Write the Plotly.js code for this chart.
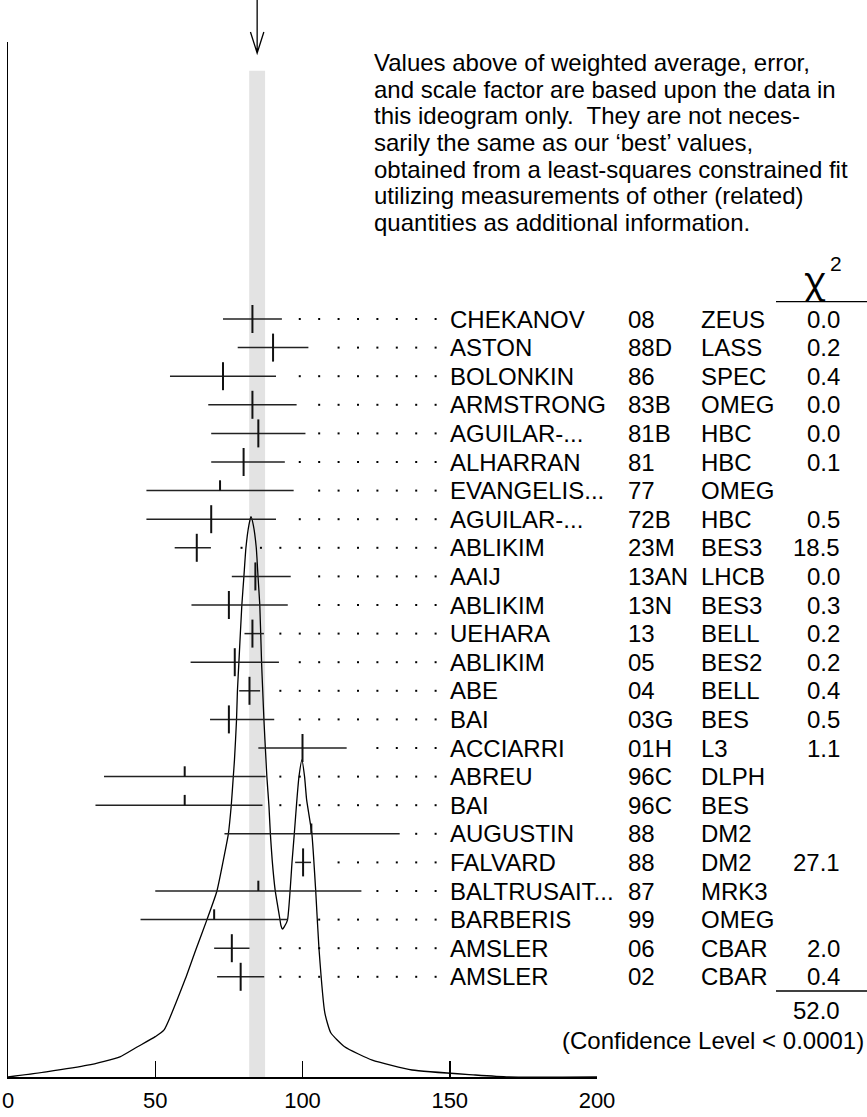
<!DOCTYPE html>
<html><head><meta charset="utf-8">
<script src="https://cdn.plot.ly/plotly-3.0.1.min.js"></script>
<style>html,body{margin:0;padding:0;background:#fff}#chart{width:867px;height:1117px}</style>
</head><body><div id="chart"></div>
<script>
// ---------- data ----------
const names = ['CHEKANOV','ASTON','BOLONKIN','ARMSTRONG','AGUILAR-...','ALHARRAN','EVANGELIS...','AGUILAR-...','ABLIKIM','AAIJ','ABLIKIM','UEHARA','ABLIKIM','ABE','BAI','ACCIARRI','ABREU','BAI','AUGUSTIN','FALVARD','BALTRUSAIT...','BARBERIS','AMSLER','AMSLER'];
const years = ['08','88D','86','83B','81B','81','77','72B','23M','13AN','13N','13','05','04','03G','01H','96C','96C','88','88','87','99','06','02'];
const experiments = ['ZEUS','LASS','SPEC','OMEG','HBC','HBC','OMEG','HBC','BES3','LHCB','BES3','BELL','BES2','BELL','BES','L3','DLPH','BES','DM2','DM2','MRK3','OMEG','CBAR','CBAR'];
const chi2 = ['0.0','0.2','0.4','0.0','0.0','0.1','','0.5','18.5','0.0','0.3','0.2','0.2','0.4','0.5','1.1','','','','27.1','','','2.0','0.4'];
const values   = [83, 90, 73, 83, 85, 80, 72, 69, 64.1, 84, 75, 83, 77, 82, 75, 100, 60, 60, 103, 100.2, 85, 70, 76, 79];
const errMinus = [10, 12, 18, 15, 16, 11, 25, 22, 7.5, 8, 12.7, 2.7, 15, 3.5, 6.4, 15, 27.4, 30.3, 29.5, 2.7, 35, 25, 6, 8];
const errPlus  = [10, 12, 18, 15, 16, 14, 25, 22, 4.8, 12, 20, 3.9, 15, 3.6, 15.4, 15, 27.5, 26.4, 30, 2.7, 35, 25, 6, 8];
const weightedAverage = 84.6;
const averageError = 2.7;
const chi2Total = '52.0';
const confidenceText = '(Confidence Level < 0.0001)';
const noteLines = [
  'Values above of weighted average, error,',
  'and scale factor are based upon the data in',
  'this ideogram only.\u00a0 They are not neces-',
  'sarily the same as our \u2018best\u2019 values,',
  'obtained from a least-squares constrained fit',
  'utilizing measurements of other (related)',
  'quantities as additional information.'
];
const xTicks = [0, 50, 100, 150, 200];
// ideogram curve (height relative to main peak)
const curveX = [0, 13, 27, 38, 44, 50, 53, 60.5, 63.9, 67.5, 70.9, 73.8, 74.8, 75.8, 76.5, 76.9, 77.6, 77.9, 78.4, 79.4, 80.1, 80.8, 81.8, 82.5, 83.3, 84.3, 84.9, 85.5, 86.1, 86.5, 86.9, 87.6, 87.9, 88.6, 89.1, 89.7, 90.7, 92.1, 92.7, 93.2, 93.8, 94.9, 96.5, 97.2, 98.1, 98.8, 99.8, 100.7, 101.4, 103.2, 104.5, 105.6, 107.6, 109.6, 114.3, 123.7, 137.2, 158.7, 170, 200];
const curveY = [0, 0.009, 0.021, 0.036, 0.054, 0.072, 0.084, 0.179, 0.229, 0.280, 0.331, 0.405, 0.433, 0.484, 0.536, 0.566, 0.6375, 0.689, 0.740, 0.842, 0.893, 0.945, 0.985, 1.0, 0.985, 0.945, 0.893, 0.842, 0.740, 0.689, 0.6375, 0.566, 0.536, 0.484, 0.433, 0.3875, 0.334, 0.289, 0.270, 0.264, 0.268, 0.280, 0.3875, 0.433, 0.495, 0.536, 0.566, 0.536, 0.495, 0.433, 0.331, 0.229, 0.114, 0.079, 0.054, 0.030, 0.0125, 0.0036, 0, 0];

// ---------- layout helpers (page pixels -> paper) ----------
const W = 867, H = 1117;
const PX = p => p / W;
const PY = p => 1 - p / H;
const plotTop = 42, plotBottom = 1077, rowTop = 319, rowStep = 28.6;
const rowIdx = names.map((_, i) => i);
const used = chi2.map(c => c !== '');

// dotted leaders
const dotStep = 6.59, dotLast = 145.2, dotGap = 4.25;
const dotsX = [], dotsY = [];
rowIdx.forEach(i => {
  const end = values[i] + errPlus[i];
  for (let d = dotLast; d > end + dotGap; d -= dotStep) { dotsX.push(d); dotsY.push(i); }
});

// half ticks for unused measurements
const halfX = [], halfY = [];
rowIdx.forEach(i => { if (!used[i]) { halfX.push(values[i], values[i], null); halfY.push(i, i - 0.36, null); } });

const font = 'Liberation Sans, Arial, Helvetica, sans-serif';
const traces = [
  { x: curveX, y: curveY, yaxis: 'y', mode: 'lines', line: { color: '#000', width: 1.3, shape: 'spline', smoothing: 0.5 }, hoverinfo: 'skip' },
  { x: values, y: rowIdx, yaxis: 'y2', mode: 'markers', marker: { size: 1, opacity: 0 },
    error_x: { type: 'data', symmetric: false, array: errPlus, arrayminus: errMinus, width: 0, thickness: 1.5, color: '#222' } },
  { x: values.filter((v, i) => used[i]), y: rowIdx.filter(i => used[i]), yaxis: 'y2', mode: 'markers',
    marker: { symbol: 'line-ns', size: 20, line: { width: 2, color: '#111' } } },
  { x: halfX, y: halfY, yaxis: 'y2', mode: 'lines', line: { color: '#111', width: 2 } },
  { x: dotsX, y: dotsY, yaxis: 'y2', mode: 'markers', marker: { symbol: 'square', size: 2, color: '#000' } }
];

const annotations = [];
const txt = (text, x, y, xanchor, size, extra) => Object.assign({ text, x, y, xref: 'paper', yref: 'paper', xanchor, yanchor: 'middle', showarrow: false, font: { family: font, size, color: '#000' } }, extra || {});
noteLines.forEach((t, k) => annotations.push(txt(t, PX(372), PY(62.3 + 26.7 * k), 'left', 24)));
rowIdx.forEach(i => {
  annotations.push(Object.assign(txt(names[i], PX(448), i, 'left', 24), { yref: 'y2' }));
  annotations.push(Object.assign(txt(years[i], PX(626), i, 'left', 24), { yref: 'y2' }));
  annotations.push(Object.assign(txt(experiments[i], PX(699), i, 'left', 24), { yref: 'y2' }));
  if (chi2[i]) annotations.push(Object.assign(txt(chi2[i], PX(842), i, 'right', 24), { yref: 'y2' }));
});
annotations.push(txt('\u03c7', PX(815), PY(279), 'center', 36, { font: { family: 'Noto Sans, DejaVu Sans, sans-serif', size: 36, color: '#000' } }));
annotations.push(txt('2', PX(836), PY(264), 'center', 21));
annotations.push(txt(chi2Total, PX(842), PY(1010), 'right', 24));
annotations.push(txt(confidenceText, PX(866), PY(1040), 'right', 24));

const shapes = [
  { type: 'rect', xref: 'x', yref: 'paper', x0: weightedAverage - averageError, x1: weightedAverage + averageError,
    y0: PY(plotBottom), y1: PY(70.7), fillcolor: '#e3e3e3', line: { width: 0 }, layer: 'below' },
  { type: 'path', xref: 'x', xsizemode: 'pixel', xanchor: weightedAverage, yref: 'paper', ysizemode: 'pixel', yanchor: PY(53),
    path: 'M0,0 L0,53 M-6.7,21 L0,0 L6.7,21', line: { color: '#000', width: 1.3 } },
  { type: 'line', xref: 'paper', yref: 'paper', x0: PX(776), x1: 1, y0: PY(301.7), y1: PY(301.7), line: { color: '#000', width: 1.3 } },
  { type: 'line', xref: 'paper', yref: 'paper', x0: PX(776), x1: 1, y0: PY(991), y1: PY(991), line: { color: '#000', width: 1.3 } }
];

const yDomain = [PY(plotBottom), PY(plotTop)];
const layout = {
  width: W, height: H, margin: { l: 0, r: 0, t: 0, b: 0 }, showlegend: false,
  paper_bgcolor: '#fff', plot_bgcolor: 'rgba(0,0,0,0)',
  xaxis: { domain: [PX(8), PX(597)], range: [0, 200], showgrid: false, zeroline: false, showline: true, linecolor: '#000', linewidth: 1.5,
    ticks: 'inside', ticklen: 16, tickwidth: 1.5, tickcolor: '#000', tickvals: xTicks, ticktext: xTicks.map(String),
    tickfont: { family: font, size: 22, color: '#000' }, ticklabelstandoff: 3, fixedrange: true },
  yaxis: { domain: yDomain, range: [0, (plotBottom - plotTop) / 560.3], showgrid: false, zeroline: false, showline: true, linecolor: '#000', linewidth: 1.5,
    ticks: '', showticklabels: false, fixedrange: true },
  yaxis2: { domain: yDomain, overlaying: 'y', range: [(plotBottom - rowTop) / rowStep, (plotTop - rowTop) / rowStep], visible: false, fixedrange: true },
  annotations, shapes
};
Plotly.newPlot('chart', traces, layout, { staticPlot: true, displayModeBar: false });
</script></body></html>
